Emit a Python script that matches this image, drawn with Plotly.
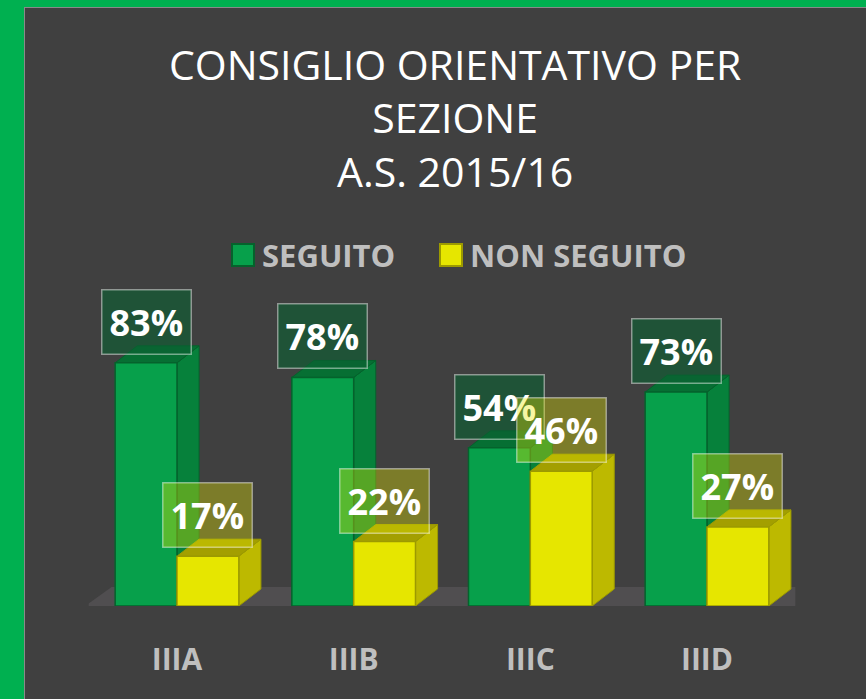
import plotly.graph_objects as go

# ---- data ----
categories = ["IIIA", "IIIB", "IIIC", "IIID"]
seguito = [83, 78, 54, 73]
non_seguito = [17, 22, 46, 27]
series_names = ["SEGUITO", "NON SEGUITO"]
title_text = "CONSIGLIO ORIENTATIVO PER<br>SEZIONE<br>A.S. 2015/16"

W, H = 866, 699
BG = "#404040"
BORDER_GREEN = "#00B050"
FONT = "Open Sans"

def px_x(p):
    return p / W

def px_y(p):
    return 1 - p / H

idx = list(range(len(categories)))
bar_w = 0.35
dx, dy = 0.125, 5.8  # depth offset (data units)

styles = [
    dict(front="#07A04B", side="#06813B", top="#066F33", edge="#05622C",
         label_bg="rgba(12,96,50,0.62)"),
    dict(front="#E6E600", side="#BDB900", top="#A39F00", edge="#9C9A00",
         label_bg="rgba(230,230,0,0.36)"),
]
offsets = [-bar_w, 0.0]
all_values = [seguito, non_seguito]

fig = go.Figure()
shapes = []
annotations = []

# floor
fdx, fdy = 0.15, 6.5
shapes.append(dict(
    type="path", xref="x", yref="y", layer="below",
    path=f"M -0.52,0 L 3.5,0 L {3.5+fdx},{fdy} L {-0.52+fdx},{fdy} Z",
    fillcolor="#504E50", line=dict(width=0)))

for s, (vals, off, st, name) in enumerate(zip(all_values, offsets, styles, series_names)):
    fig.add_trace(go.Bar(
        x=idx, y=vals, name=name, width=bar_w, offset=off,
        marker=dict(color=st["front"], line=dict(color=st["edge"], width=1.5)),
        showlegend=False, hoverinfo="skip"))
    for i, v in zip(idx, vals):
        x0 = i + off
        x1 = x0 + bar_w
        # side face
        shapes.append(dict(
            type="path", xref="x", yref="y", layer="below",
            path=f"M {x1},0 L {x1+dx},{dy} L {x1+dx},{v+dy} L {x1},{v} Z",
            fillcolor=st["side"], line=dict(color=st["edge"], width=1)))
        # top face
        shapes.append(dict(
            type="path", xref="x", yref="y", layer="below",
            path=f"M {x0},{v} L {x0+dx},{v+dy} L {x1+dx},{v+dy} L {x1},{v} Z",
            fillcolor=st["top"], line=dict(color=st["edge"], width=1)))
        annotations.append(dict(
            x=x0 + bar_w / 2, y=v, xref="x", yref="y",
            text=f"<b>{v}%</b>", showarrow=False,
            yanchor="bottom", yshift=8,
            font=dict(family=FONT, size=36, color="white"),
            bgcolor=st["label_bg"], bordercolor="rgba(255,255,255,0.45)",
            borderwidth=1.5, borderpad=7))

# green frame (left and top)
shapes.append(dict(type="rect", xref="paper", yref="paper",
                   x0=0, x1=px_x(24), y0=0, y1=1,
                   fillcolor=BORDER_GREEN, line=dict(width=0), layer="above"))
shapes.append(dict(type="rect", xref="paper", yref="paper",
                   x0=0, x1=1, y0=px_y(7), y1=1,
                   fillcolor=BORDER_GREEN, line=dict(width=0), layer="above"))
shapes.append(dict(type="line", xref="paper", yref="paper",
                   x0=px_x(24.5), x1=px_x(24.5), y0=0, y1=px_y(7),
                   line=dict(color="#8A8A8A", width=1), layer="above"))
shapes.append(dict(type="line", xref="paper", yref="paper",
                   x0=px_x(24), x1=1, y0=px_y(7.5), y1=px_y(7.5),
                   line=dict(color="#8A8A8A", width=1), layer="above"))

# manual legend
legend_items = [(232, series_names[0], styles[0]), (440, series_names[1], styles[1])]
for lx, name, st in legend_items:
    shapes.append(dict(type="rect", xref="paper", yref="paper",
                       x0=px_x(lx), x1=px_x(lx + 22), y0=px_y(266), y1=px_y(244),
                       fillcolor=st["front"], line=dict(color=st["edge"], width=2),
                       layer="above"))
    annotations.append(dict(
        x=px_x(lx + 28), y=px_y(255), xref="paper", yref="paper",
        xanchor="left", yanchor="middle", showarrow=False,
        text=f"<b>{name}</b>",
        font=dict(family=FONT, size=31, color="#BFBFBF")))

# title
annotations.append(dict(
    x=px_x(455), y=px_y(117), xref="paper", yref="paper",
    xanchor="center", yanchor="middle", showarrow=False,
    text=title_text, align="center",
    font=dict(family=FONT, size=41, color="white")))

fig.update_layout(
    width=W, height=H,
    margin=dict(l=0, r=0, t=0, b=0),
    paper_bgcolor=BG, plot_bgcolor="rgba(0,0,0,0)",
    barmode="overlay",
    xaxis=dict(
        domain=[px_x(88.67), px_x(795.33)], range=[-0.5, 3.5],
        tickvals=idx, ticktext=categories,
        tickfont=dict(family=FONT, size=30, color="#BFBFBF", weight="bold"),
        showgrid=False, zeroline=False, showline=False, ticks="",
        ticklabelstandoff=33, fixedrange=True),
    yaxis=dict(
        domain=[px_y(606), px_y(313)], range=[0, 100],
        showgrid=False, zeroline=False, showticklabels=False, showline=False,
        fixedrange=True),
    shapes=shapes,
    annotations=annotations,
    showlegend=False,
)

fig.write_html(
    "out.html",
    config={"displayModeBar": False},
    post_script="document.body.style.margin='0';document.body.style.overflow='hidden';",
)
